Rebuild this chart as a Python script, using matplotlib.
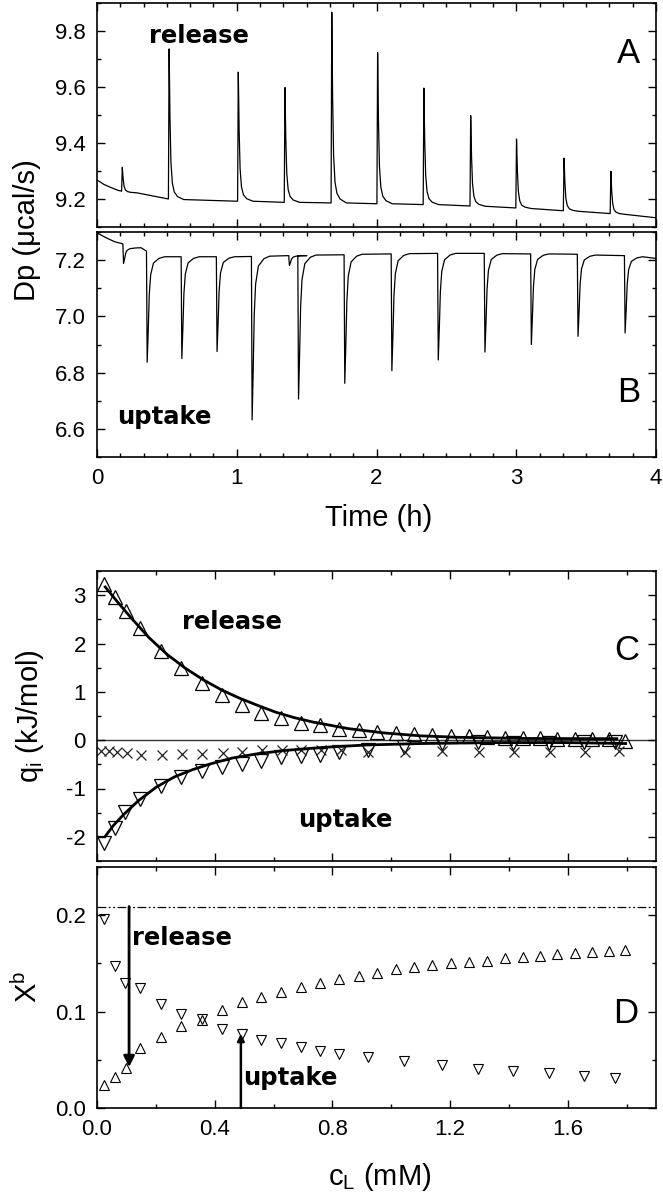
import matplotlib
matplotlib.use('Agg')
import matplotlib.pyplot as plt
import matplotlib.ticker as mticker
import numpy as np

plt.rcParams['font.family'] = ['Liberation Sans', 'DejaVu Sans']
plt.rcParams['mathtext.fontset'] = 'custom'
plt.rcParams['mathtext.rm'] = 'Liberation Sans'
plt.rcParams['mathtext.it'] = 'Liberation Sans:italic'
plt.rcParams['axes.unicode_minus'] = False

# ---- panel A: release thermogram (injection time, baseline before/after, peak)
a_start_t = [0.0, 0.05, 0.10, 0.15]
a_start_y = [9.268, 9.252, 9.241, 9.231]
a_t = [0.176, 0.511, 1.006, 1.340, 1.675, 2.003, 2.334, 2.669, 2.997, 3.337, 3.672]
a_pre = [9.228, 9.200, 9.192, 9.188, 9.186, 9.183, 9.180, 9.175, 9.168, 9.158, 9.148]
a_post = [9.222, 9.198, 9.192, 9.188, 9.186, 9.183, 9.180, 9.174, 9.166, 9.156, 9.145]
a_peak = [9.313, 9.736, 9.653, 9.598, 9.867, 9.723, 9.596, 9.498, 9.414, 9.346, 9.299]
a_end = (4.0, 9.133)
# spike shape: time after injection (h), fraction of height
a_off = [0.0, 0.005, 0.011, 0.018, 0.028, 0.042, 0.065, 0.11]
a_frac = [0.0, 1.0, 0.55, 0.25, 0.11, 0.05, 0.02, 0.0]

# ---- panel B: uptake thermogram
b_start_t = [0.0, 0.063, 0.128]
b_start_y = [7.297, 7.280, 7.265]
b_t = [0.185, 0.354, 0.602, 0.854, 1.105, 1.372, 1.437, 1.768, 2.105, 2.437,
       2.771, 3.103, 3.437, 3.774]
b_pre = [7.258, 7.232, 7.212, 7.212, 7.213, 7.216, 7.216, 7.219, 7.222, 7.224,
         7.224, 7.222, 7.221, 7.216]
b_post = [7.244, 7.212, 7.212, 7.212, 7.214, 7.216, 7.218, 7.221, 7.223, 7.224,
          7.223, 7.222, 7.218, 7.212]
b_min = [7.188, 6.837, 6.850, 6.875, 6.632, 7.181, 6.706, 6.762, 6.807, 6.845,
         6.873, 6.900, 6.929, 6.941]
b_end = (4.0, 7.206)
b_off = [0.0, 0.005, 0.013, 0.020, 0.030, 0.050, 0.090, 0.13]
b_frac = [0.0, 1.0, 0.68, 0.36, 0.17, 0.06, 0.015, 0.0]

# ---- panel C: integral heats
c_rel = [0.025, 0.062, 0.098, 0.147, 0.217, 0.287, 0.356, 0.426, 0.493, 0.559,
         0.626, 0.692, 0.757, 0.823, 0.890, 0.952, 1.016, 1.078, 1.140, 1.203,
         1.265, 1.327, 1.386, 1.447, 1.506, 1.565, 1.626, 1.684, 1.740, 1.796]
q_rel = [3.23, 2.97, 2.67, 2.33, 1.84, 1.49, 1.18, 0.94, 0.73, 0.57,
         0.45, 0.36, 0.31, 0.24, 0.21, 0.17, 0.14, 0.12, 0.10, 0.09,
         0.08, 0.07, 0.05, 0.05, 0.05, 0.03, 0.03, 0.03, 0.02, -0.01]
c_upt = [0.025, 0.061, 0.096, 0.147, 0.217, 0.287, 0.356, 0.426, 0.492, 0.559,
         0.626, 0.692, 0.757, 0.823, 0.920, 1.045, 1.171, 1.294, 1.415, 1.535,
         1.656, 1.760]
q_upt = [-2.12, -1.81, -1.49, -1.22, -0.94, -0.76, -0.63, -0.56, -0.49, -0.44,
         -0.35, -0.33, -0.30, -0.24, -0.21, -0.14, -0.05, -0.03, -0.05, -0.05,
         -0.03, -0.03]
c_ctl = [0.012, 0.040, 0.067, 0.101, 0.150, 0.220, 0.290, 0.358, 0.429, 0.494,
         0.560, 0.629, 0.695, 0.760, 0.828, 0.922, 1.047, 1.172, 1.297, 1.417,
         1.540, 1.657, 1.773]
q_ctl = [-0.23, -0.23, -0.24, -0.27, -0.30, -0.30, -0.28, -0.28, -0.26, -0.24,
         -0.21, -0.21, -0.21, -0.21, -0.21, -0.24, -0.24, -0.23, -0.24, -0.24,
         -0.24, -0.24, -0.23]
fit_rel_c = [0.028, 0.067, 0.116, 0.177, 0.239, 0.300, 0.361, 0.423, 0.484, 0.546,
             0.607, 0.668, 0.730, 0.853, 0.975, 1.098, 1.221, 1.466, 1.767]
fit_rel_q = [3.17, 2.88, 2.53, 2.12, 1.77, 1.49, 1.25, 1.04, 0.87, 0.72,
             0.58, 0.47, 0.38, 0.24, 0.15, 0.09, 0.06, 0.035, 0.03]
fit_upt_c = [0.028, 0.055, 0.092, 0.141, 0.202, 0.263, 0.325, 0.386, 0.460, 0.546,
             0.644, 0.767, 0.914, 1.098, 1.344, 1.589, 1.797]
fit_upt_q = [-1.99, -1.77, -1.53, -1.25, -0.97, -0.76, -0.61, -0.49, -0.37, -0.28,
             -0.21, -0.15, -0.10, -0.07, -0.05, -0.05, -0.07]

# ---- panel D: bound fraction
x_rel = [0.024, 0.032, 0.041, 0.062, 0.074, 0.085, 0.091, 0.102, 0.110, 0.115,
         0.120, 0.126, 0.130, 0.134, 0.137, 0.140, 0.144, 0.146, 0.148, 0.150,
         0.151, 0.153, 0.156, 0.157, 0.158, 0.160, 0.161, 0.162, 0.163, 0.164]
x_upt = [0.196, 0.147, 0.130, 0.124, 0.108, 0.097, 0.092, 0.082, 0.077, 0.071,
         0.067, 0.063, 0.059, 0.056, 0.053, 0.049, 0.045, 0.040, 0.038, 0.036,
         0.033, 0.031]
x_max = 0.209


def build_trace(start_t, start_y, inj_t, pre, post, extreme, end, off, frac):
    t, y = list(start_t), list(start_y)
    for ti, p0, p1, ex in zip(inj_t, pre, post, extreme):
        t.append(ti)
        y.append(p0)
        for o, f in zip(off[1:], frac[1:]):
            t.append(ti + o)
            y.append(p1 + f * (ex - p1))
    t.append(end[0])
    y.append(end[1])
    return t, y


def style(ax):
    ax.tick_params(which='both', direction='in', top=True, right=True,
                   labelsize=16, pad=8, width=1.0)
    ax.tick_params(which='major', length=6)
    ax.tick_params(which='minor', length=3)
    for s in ax.spines.values():
        s.set_linewidth(1.2)


W, H = 663, 1199
fig = plt.figure(figsize=(W / 100, H / 100), dpi=100)


def box(top, bottom, left=97, right=656):
    return [left / W, 1 - bottom / H, (right - left) / W, (bottom - top) / H]


axA = fig.add_axes(box(3, 227))
axB = fig.add_axes(box(232, 457))
axC = fig.add_axes(box(571, 861))
axD = fig.add_axes(box(867, 1108))

bold = dict(family='DejaVu Sans', fontweight='bold', fontsize=17.5,
            va='baseline', ha='left')
letter = dict(fontsize=25, ha='center', va='baseline')

# A
tA, yA = build_trace(a_start_t, a_start_y, a_t, a_pre, a_post, a_peak, a_end, a_off, a_frac)
axA.plot(tA, yA, color='k', lw=0.9)
axA.set_xlim(0, 4)
axA.set_ylim(9.10, 9.90)
axA.yaxis.set_major_locator(mticker.MultipleLocator(0.2))
axA.yaxis.set_minor_locator(mticker.MultipleLocator(0.1))
axA.yaxis.set_major_formatter(mticker.FormatStrFormatter('%.1f'))
axA.xaxis.set_major_locator(mticker.MultipleLocator(1))
axA.xaxis.set_minor_locator(mticker.MultipleLocator(1 / 6))
style(axA)
axA.tick_params(labelbottom=False)
axA.text(0.369, 9.756, 'release', **bold)
axA.text(3.806, 9.684, 'A', **letter)

# B
tB, yB = build_trace(b_start_t, b_start_y, b_t, b_pre, b_post, b_min, b_end, b_off, b_frac)
axB.plot(tB, yB, color='k', lw=0.9)
axB.set_xlim(0, 4)
axB.set_ylim(6.50, 7.30)
axB.yaxis.set_major_locator(mticker.FixedLocator([6.6, 6.8, 7.0, 7.2]))
axB.yaxis.set_minor_locator(mticker.MultipleLocator(0.1))
axB.yaxis.set_major_formatter(mticker.FormatStrFormatter('%.1f'))
axB.xaxis.set_major_locator(mticker.MultipleLocator(1))
axB.xaxis.set_minor_locator(mticker.MultipleLocator(1 / 6))
axB.xaxis.set_major_formatter(mticker.FormatStrFormatter('%d'))
style(axB)
axB.text(0.146, 6.619, 'uptake', **bold)
axB.text(3.806, 6.696, 'B', **letter)

# C
axC.axhline(0, color='#333333', lw=1.0, zorder=1)
axC.plot(fit_rel_c, fit_rel_q, color='k', lw=2.0, zorder=3)
axC.plot(fit_upt_c, fit_upt_q, color='k', lw=2.0, zorder=3)
axC.plot(c_rel, q_rel, ls='none', marker='^', ms=10.5, mfc='none', mec='k', mew=0.9, zorder=2)
axC.plot(c_upt, q_upt, ls='none', marker='v', ms=10.5, mfc='none', mec='k', mew=0.9, zorder=2)
axC.plot(c_ctl, q_ctl, ls='none', marker='x', ms=7, mec='#222222', mew=0.9, zorder=2)
axC.set_xlim(0, 1.9)
axC.set_ylim(-2.5, 3.5)
axC.yaxis.set_major_locator(mticker.MultipleLocator(1))
axC.yaxis.set_minor_locator(mticker.MultipleLocator(0.5))
axC.yaxis.set_major_formatter(mticker.FormatStrFormatter('%d'))
axC.xaxis.set_major_locator(mticker.MultipleLocator(0.4))
axC.xaxis.set_minor_locator(mticker.MultipleLocator(0.2))
style(axC)
axC.tick_params(labelbottom=False)
axC.text(0.29, 2.29, 'release', **bold)
axC.text(0.683, -1.80, 'uptake', **bold)
axC.text(1.80, 1.667, 'C', **letter)

# D
axD.axhline(x_max, color='k', lw=0.9, ls=(0, (7, 2, 1.5, 2, 1.5, 2)))
axD.plot(c_rel, x_rel, ls='none', marker='^', ms=6.5, mfc='none', mec='k', mew=0.8)
axD.plot(c_upt, x_upt, ls='none', marker='v', ms=6.5, mfc='none', mec='k', mew=0.8)
axD.annotate('', xy=(0.109, 0.0424), xytext=(0.109, x_max),
             arrowprops=dict(arrowstyle='-|>', lw=2.0, color='k',
                             mutation_scale=16, shrinkA=0, shrinkB=0))
axD.annotate('', xy=(0.489, 0.077), xytext=(0.489, 0.0),
             arrowprops=dict(arrowstyle='-|>', lw=1.8, color='k',
                             mutation_scale=10, shrinkA=0, shrinkB=0))
axD.set_xlim(0, 1.9)
axD.set_ylim(0, 0.25)
axD.yaxis.set_major_locator(mticker.FixedLocator([0.0, 0.1, 0.2]))
axD.yaxis.set_minor_locator(mticker.MultipleLocator(0.05))
axD.yaxis.set_major_formatter(mticker.FormatStrFormatter('%.1f'))
axD.xaxis.set_major_locator(mticker.FixedLocator([0.0, 0.4, 0.8, 1.2, 1.6]))
axD.xaxis.set_minor_locator(mticker.MultipleLocator(0.2))
axD.xaxis.set_major_formatter(mticker.FormatStrFormatter('%.1f'))
style(axD)
axD.text(0.119, 0.169, 'release', **bold)
axD.text(0.498, 0.024, 'uptake', **bold)
axD.text(1.796, 0.088, 'D', **letter)

# axis labels
lab = dict(fontsize=21, ha='center', va='center')
fig.text(378.6 / W, 1 - 518 / H, 'Time (h)', **lab)
fig.text(380 / W, 1 - 1177 / H, r'c$_\mathrm{L}$ (mM)', **lab)
fig.text(27 / W, 1 - 230 / H, 'Dp (\u03bccal/s)', rotation=90, **lab)
fig.text(30 / W, 1 - 716 / H, r'q$_\mathrm{i}$ (kJ/mol)', rotation=90, **lab)
fig.text(28 / W, 1 - 987 / H, r'X$^\mathrm{b}$', rotation=90, **lab)

fig.savefig('out.png', dpi=100)
